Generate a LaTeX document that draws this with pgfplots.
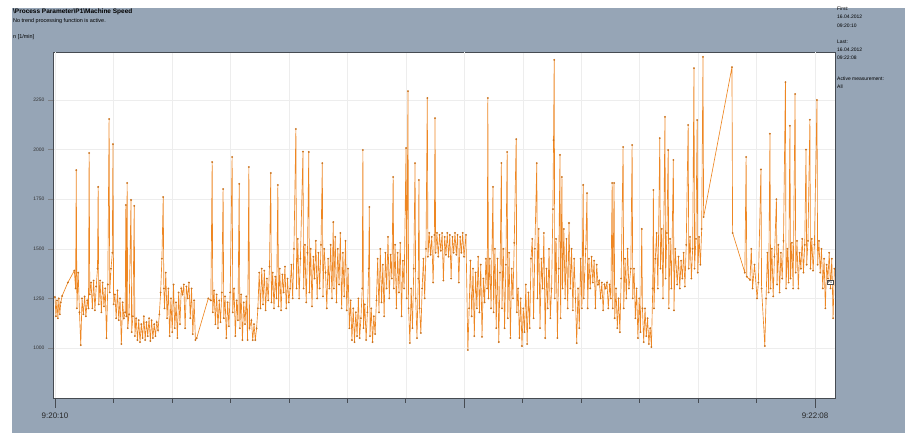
\documentclass[border=0pt]{standalone}
\usepackage{pgfplots}
\pgfplotsset{compat=1.18}
\usepackage{fontspec}
\setmainfont{Liberation Sans}
\definecolor{panel}{RGB}{150,165,182}
\definecolor{trend}{RGB}{238,135,35}
\definecolor{axdark}{RGB}{70,75,82}
\begin{document}
\begin{tikzpicture}[x=1bp,y=1bp]
\path[use as bounding box] (0,0) rectangle (909,433);
\fill[white] (0,0) rectangle (909,433);
\fill[panel] (12,0) rectangle (905,425);
\node[anchor=west,font=\fontsize{6.5}{7}\selectfont\bfseries,inner sep=0pt] at (13,421) {\textbackslash Process Parameter\textbackslash P1\textbackslash Machine Speed};
\node[anchor=west,font=\fontsize{5.5}{6}\selectfont,inner sep=0pt] at (13,412) {No trend processing function is active.};
\node[anchor=west,font=\fontsize{5.5}{6}\selectfont,inner sep=0pt] at (13,396) {n [1/min]};
\node[anchor=north west,font=\fontsize{5}{8.2}\selectfont,inner sep=0pt,align=left] at (837,426) {First:\\16.04.2012\\09:20:10};
\node[anchor=north west,font=\fontsize{5}{8.2}\selectfont,inner sep=0pt,align=left] at (837,393) {Last:\\16.04.2012\\09:22:08};
\node[anchor=north west,font=\fontsize{5}{8.2}\selectfont,inner sep=0pt,align=left] at (837,356) {Active measurement:\\All};
\begin{axis}[at={(53bp,35bp)},anchor=south west,scale only axis,width=782bp,height=346bp,
 xmin=-0.31,xmax=121.1,ymin=748,ymax=2492,
 axis background/.style={fill=white},
 axis line style={draw=axdark,line width=0.8bp},
 tick pos=left,
 xtick={9.08,18.15,27.23,36.31,45.38,54.46,72.62,81.69,90.77,99.85,108.92},
 xticklabels={},
 extra x ticks={0,63.54,118},extra x tick labels={9:20:10,,9:22:08},
 extra x tick style={major tick length=10bp,grid=major},
 ytick={1000,1250,1500,1750,2000,2250},
 tick align=outside,
 major tick length=5bp,
 xtick style={draw=axdark,line width=0.7bp},
 ytick style={draw=axdark!70,line width=0.5bp},
 x tick label style={font=\fontsize{8}{9}\selectfont,color=black!85,yshift=-1bp},
 y tick label style={font=\fontsize{5}{5.5}\selectfont,color=black!80},
 /pgf/number format/assume math mode=true,
 /pgf/number format/1000 sep={},
 xmajorgrids,ymajorgrids,
 major grid style={draw=black!7,line width=0.5bp},
 clip=true]
\addplot[color=trend,line width=0.65bp,mark=*,mark size=0.55bp,mark options={fill=trend!85!black,draw=trend!85!black}] coordinates {
(0,1257)(0.15,1160)(0.3,1240)(0.45,1150)(0.6,1250)(0.75,1170)(0.9,1230)(1.1,1262)
(2.0,1330)(3.0,1390)(3.2,1300)(3.3,1897)(3.4,1200)
(3.6,1380)(3.8,1180)(4.0,1015)(4.2,1250)(4.4,1170)(4.6,1260)(4.8,1160)(5.0,1240)(5.2,1200)(5.3,1983)(5.4,1270)
(5.6,1330)(5.8,1200)(6.0,1340)(6.2,1190)(6.4,1310)(6.6,1400)(6.7,1812)(6.8,1220)(7.0,1340)(7.2,1180)(7.4,1330)(7.6,1210)(7.8,1300)(8.0,1050)(8.2,1320)(8.4,2154)(8.5,1280)(8.7,1400)(8.9,1480)(9.0,2028)(9.1,1220)
(9.3,1270)(9.5,1150)(9.7,1290)(9.9,1140)(10.1,1250)(10.3,1020)(10.5,1230)(10.7,1150)(10.9,1180)(11.0,1721)(11.1,1160)(11.2,1832)(11.3,1100)(11.5,1170)(11.8,1746)(11.9,1080)(12.1,1160)(12.3,1716)(12.4,1060)
(12.6,1150)(12.8,1040)(13.0,1140)(13.2,1030)(13.4,1120)(13.6,1050)(13.8,1160)(14.0,1040)(14.2,1130)(14.4,1060)(14.6,1150)(14.8,1035)(15.0,1140)(15.2,1050)(15.4,1120)(15.6,1060)(15.8,1130)(16.0,1090)(16.2,1170)(16.4,1280)(16.6,1450)(16.8,1761)(16.9,1300)(17.0,1200)(17.2,1380)(17.4,1150)
(17.6,1300)(17.8,1060)(18.0,1250)(18.2,1080)(18.4,1320)(18.6,1100)(18.8,1230)(19.0,1050)(19.2,1280)(19.4,1120)(19.6,1300)(19.8,1270)(20.0,1320)(20.2,1100)(20.4,1310)(20.6,1250)(20.8,1330)(21.0,1150)(21.2,1300)(21.4,1070)(21.6,1240)(21.8,1040)(22.0,1050)(23.8,1250)
(24.2,1240)(24.4,1937)(24.5,1180)
(24.7,1290)(24.9,1120)(25.1,1270)(25.3,1100)(25.5,1240)(25.7,1130)(25.9,1280)(26.1,1801)(26.2,1150)(26.4,1260)(26.6,1050)(26.8,1230)(27.0,1110)(27.2,1280)(27.5,1963)(27.6,1180)(27.8,1300)(28.0,1060)(28.2,1240)(28.4,1140)(28.6,1827)(28.7,1100)(28.9,1270)(29.1,1040)(29.3,1230)(29.5,1120)(29.7,1260)(29.9,1040)(30.1,1912)(30.2,1100)
(30.5,1140)(30.7,1040)(30.9,1120)(31.1,1040)(31.3,1100)(31.5,1200)
(31.7,1380)(31.9,1200)(32.1,1400)(32.3,1220)(32.5,1390)(32.7,1190)(32.9,1350)(33.1,1240)(33.3,1410)(33.5,1882)(33.6,1230)(33.8,1380)(34.0,1200)(34.2,1360)(34.4,1250)(34.6,1822)(34.7,1210)(34.9,1400)(35.1,1190)(35.3,1370)(35.5,1280)(35.7,1410)(35.9,1200)(36.1,1350)(36.3,1230)(36.5,1300)(36.7,1420)(36.9,1250)(37.1,1500)(37.4,2104)(37.5,1300)(37.7,1550)
(37.9,1250)(38.1,1450)(38.5,1990)(38.6,1300)(38.8,1520)(39.0,1230)(39.2,1480)(39.4,1988)(39.5,1280)(39.7,1500)(39.9,1210)(40.1,1460)(40.3,1350)(40.5,1540)(40.7,1250)(40.9,1480)(41.1,1300)(41.3,1520)(41.5,1932)(41.6,1260)(41.8,1500)(42.0,1380)(42.2,1200)(42.4,1450)(42.6,1300)
(42.8,1520)(43.0,1250)(43.2,1635)(43.3,1300)(43.5,1560)(43.7,1230)(43.9,1500)(44.1,1320)(44.3,1580)(44.5,1200)(44.7,1480)(44.9,1260)(45.1,1540)(45.3,1190)(45.5,1400)
(45.7,1100)(45.9,1240)(46.1,1040)(46.3,1200)(46.5,1030)(46.7,1180)(46.9,1060)(47.1,1250)(47.3,1050)(47.5,1150)(47.7,1300)(47.8,1998)(47.9,1100)(48.1,1220)(48.3,1040)(48.5,1180)(48.7,1400)(48.8,1711)(48.9,1060)(49.1,1200)(49.3,1030)(49.5,1160)(49.7,1070)(49.9,1240)
(50.1,1450)(50.3,1180)(50.5,1500)(50.7,1230)(50.9,1420)(51.1,1160)(51.3,1480)(51.5,1300)(51.7,1560)(51.9,1250)(52.1,1470)(52.3,1350)(52.5,1862)(52.6,1300)(52.8,1520)(53.0,1200)(53.2,1480)(53.4,1280)(53.6,1530)(53.8,1160)(54.0,1440)(54.2,1300)(54.5,2008)(54.6,1250)(54.8,2295)(54.9,1200)
(55.1,1025)(55.3,1300)(55.5,1100)(55.7,1400)(55.9,1932)(56.0,1250)(56.2,1050)(56.4,1350)(56.5,1847)(56.6,1200)(56.8,1076)(57.0,1300)(57.2,1450)(57.4,1250)(57.6,1500)(57.8,2260)(57.9,1460)
(58.1,1580)(58.3,1470)(58.5,1560)(58.7,1330)(58.9,1570)(59.0,2159)(59.1,1480)(59.3,1580)(59.5,1460)(59.7,1570)(59.9,1490)(60.1,1580)(60.3,1340)(60.5,1560)(60.7,1470)(60.9,1580)(61.1,1460)(61.3,1570)(61.5,1350)(61.7,1560)(61.9,1480)(62.1,1580)(62.3,1470)(62.5,1570)(62.7,1330)(62.9,1560)(63.1,1480)(63.3,1580)(63.5,1460)(63.8,1570)
(64.1,990)(64.3,1200)
(64.5,1440)(64.7,1160)(64.9,1400)(65.1,1060)(65.3,1380)(65.5,1200)(65.7,1460)(65.9,1180)(66.1,1420)(66.3,1056)(66.5,1350)(66.7,1230)(66.9,1450)(67.1,1300)(67.2,2260)(67.3,1250)(67.5,1450)(67.7,1200)(68.0,1812)(68.1,1180)
(68.3,1500)(68.5,1100)(68.7,1450)(68.9,1030)(69.1,1380)(69.3,1932)(69.4,1200)(69.6,1500)(69.8,1100)(70.0,1420)(70.2,1988)(70.3,1150)(70.5,1480)(70.7,1050)(70.9,1400)(71.1,1250)(71.3,1530)(71.6,2053)(71.7,1180)
(71.9,1300)(72.1,1050)(72.3,1250)(72.5,1010)(72.7,1200)(72.9,1080)(73.1,1320)(73.3,1020)(73.5,1280)(73.7,1100)
(73.9,1450)(74.1,1550)(74.3,1150)(74.5,1500)(74.8,1932)(74.9,1250)(75.1,1600)(75.3,1100)(75.5,1450)(75.7,1300)(75.9,1580)(76.1,1050)(76.3,1400)(76.5,1200)(76.7,1500)(76.9,1150)(77.1,1300)(77.3,1700)(77.4,2048)(77.5,2452)(77.6,1250)(77.8,1550)(78.0,1050)(78.2,1400)(78.4,1973)(78.5,1150)(78.7,1862)(78.8,1300)
(79.0,1600)(79.2,1250)(79.4,1550)(79.6,1200)(79.8,1630)(80.0,1300)(80.2,1500)(80.4,1190)(80.6,1450)(80.8,1250)(81.0,1025)(81.2,1300)(81.4,1100)(81.6,1450)(81.8,1200)(82.0,1822)(82.1,1250)(82.4,1500)(82.6,1781)(82.7,1200)
(82.9,1450)(83.1,1300)(83.3,1460)(83.5,1330)(83.7,1440)(83.9,1200)(84.1,1420)(84.3,1320)(84.5,1340)(84.7,1250)(84.9,1330)(85.1,1190)(85.3,1320)(85.5,1300)(85.7,1330)(85.9,1200)(86.1,1320)(86.3,1250)(86.5,1832)(86.6,1200)(86.8,1832)(86.9,1150)
(87.1,1300)(87.3,1100)(87.5,1250)(87.7,1080)(87.9,1350)(88.2,2013)(88.3,1200)(88.5,1450)(88.7,1250)(88.9,1500)(89.1,1300)(89.4,1400)(89.6,2023)(89.7,1250)(89.9,1400)
(90.1,1150)(90.3,1300)(90.5,1050)(90.7,1250)(90.9,1080)(91.1,1600)(91.2,1200)(91.4,1030)(91.6,1200)(91.8,1060)(92.0,1150)(92.2,1020)(92.4,1100)(92.6,1005)(92.8,1300)(92.9,1796)(93.0,1200)
(93.2,1450)(93.4,1580)(93.6,1300)(93.9,2058)(94.0,1400)(94.2,1600)(94.4,1250)(94.7,2165)(94.8,1350)(95.0,1580)(95.2,1998)(95.3,1200)(95.5,1550)(95.7,1300)(96.0,1948)(96.1,1190)(96.3,1500)
(96.6,1320)(96.8,1460)(97.0,1300)(97.2,1440)(97.4,1350)(97.6,1480)(97.8,1310)(98.0,1520)(98.3,2124)(98.4,1400)(98.6,1560)(98.8,1350)(99.0,1500)(99.2,2411)(99.3,1400)(99.5,1550)(99.7,2149)(99.8,1380)(100.0,1560)(100.2,1420)(100.4,1600)(100.6,2467)(100.7,1660)
(105.1,2416)(105.2,1580)(107.1,1380)(107.3,1963)(107.4,1360)(107.9,1343)
(108.1,1500)(108.3,1300)(108.6,1420)(109.0,1250)(109.2,1330)(109.6,1900)(109.7,1300)(110.2,1010)(110.4,1250)
(110.6,1480)(110.8,1280)(111.0,2080)(111.1,1300)(111.3,1500)(111.5,1260)(111.7,1460)(112.0,1750)(112.1,1320)(112.3,1520)(112.5,1280)(112.7,1480)(112.9,1350)(113.1,1540)(113.4,2340)(113.5,1300)(113.7,1500)(113.9,1330)(114.1,2120)(114.2,1350)(114.4,1530)(114.6,1300)(114.9,2280)(115.0,1380)(115.2,1540)(115.4,1300)(115.6,1480)
(115.8,1400)(116.0,1550)(116.2,1380)(116.4,1520)(116.6,2000)(116.7,1420)(116.9,1540)(117.2,2150)(117.3,1400)(117.5,1550)(117.7,1390)(117.9,1520)(118.3,2250)(118.4,1420)(118.6,1540)(118.8,1380)(119.0,1500)(119.2,1300)(119.4,1450)(119.6,1200)(119.8,1420)(120.0,1350)(120.2,1480)(120.4,1300)(120.6,1450)(120.8,1150)(121.0,1400)
};
\end{axis}
\node[draw=black!70,fill=white,font=\fontsize{3.5}{4}\selectfont,inner sep=1pt,line width=0.4bp] at (830,151) {P1};
\end{tikzpicture}
\end{document}
